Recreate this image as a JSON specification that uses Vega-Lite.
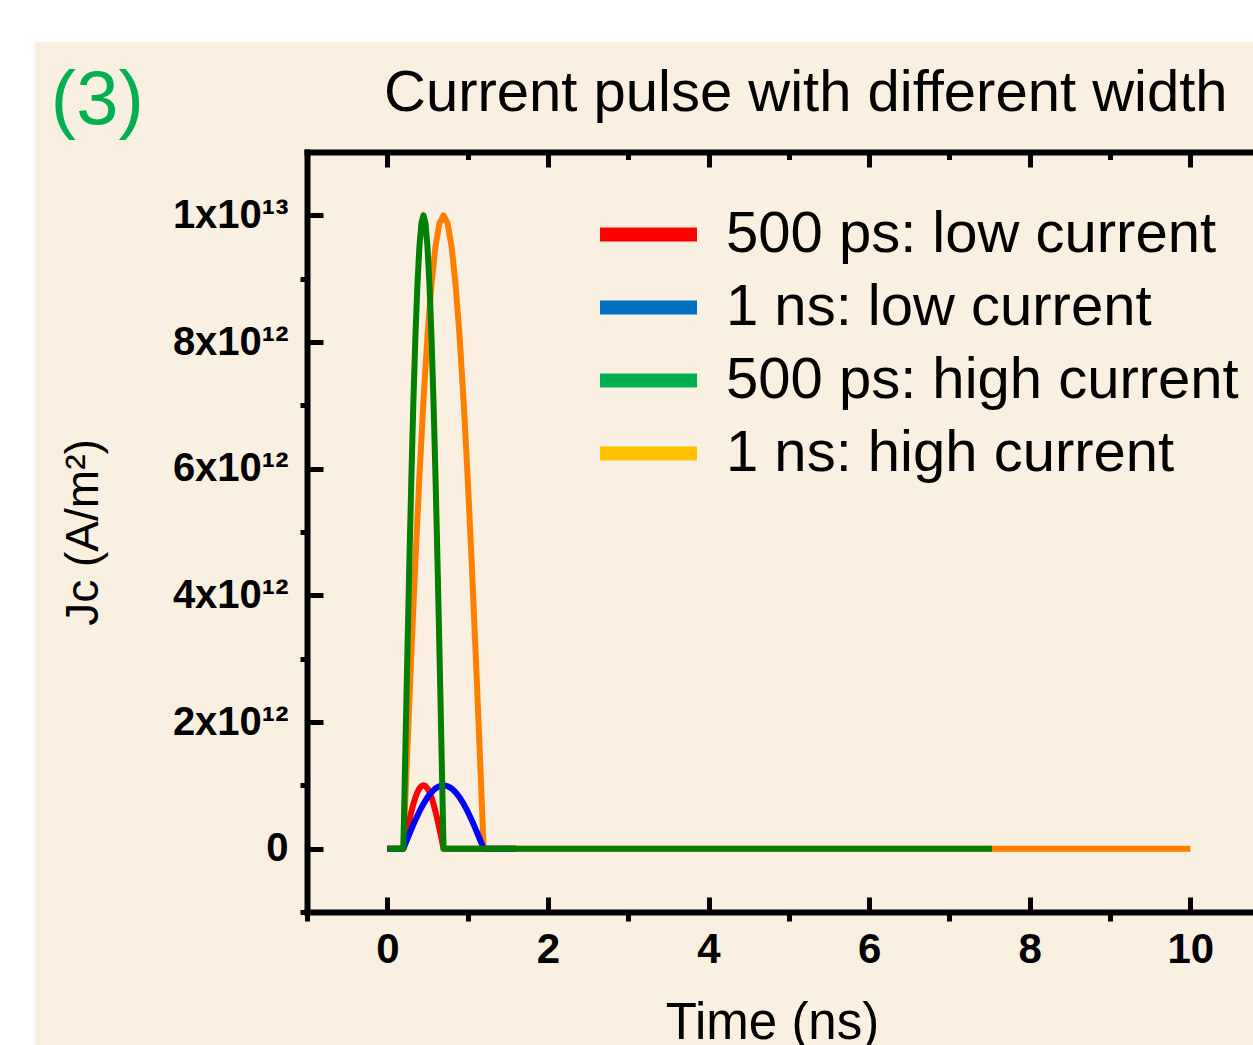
{
  "$schema": "https://vega.github.io/schema/vega-lite/v6.json",
  "width": 1218,
  "height": 1003,
  "autosize": {"type": "none"},
  "padding": {"left": 35, "top": 42, "right": 0, "bottom": 0},
  "background": "white",
  "title": {
    "text": "Current pulse with different width",
    "anchor": "start",
    "frame": "group",
    "orient": "top",
    "offset": 0,
    "baseline": "alphabetic",
    "dx": 349,
    "dy": 127,
    "font": "Liberation Sans",
    "fontSize": 58,
    "fontWeight": "normal",
    "color": "black"
  },
  "config": {
    "view": {"fill": "#f9f0e1", "stroke": null},
    "font": "Liberation Sans"
  },
  "datasets": {
    "pulses": [
      {"series": "1 ns: high current", "t": 0, "j": 0},
      {"series": "1 ns: high current", "t": 0.2, "j": 0},
      {"series": "1 ns: high current", "t": 0.25, "j": 1.564e12},
      {"series": "1 ns: high current", "t": 0.3, "j": 3.090e12},
      {"series": "1 ns: high current", "t": 0.35, "j": 4.540e12},
      {"series": "1 ns: high current", "t": 0.4, "j": 5.878e12},
      {"series": "1 ns: high current", "t": 0.45, "j": 7.071e12},
      {"series": "1 ns: high current", "t": 0.5, "j": 8.090e12},
      {"series": "1 ns: high current", "t": 0.55, "j": 8.910e12},
      {"series": "1 ns: high current", "t": 0.6, "j": 9.511e12},
      {"series": "1 ns: high current", "t": 0.65, "j": 9.877e12},
      {"series": "1 ns: high current", "t": 0.7, "j": 1.0e13},
      {"series": "1 ns: high current", "t": 0.75, "j": 9.877e12},
      {"series": "1 ns: high current", "t": 0.8, "j": 9.511e12},
      {"series": "1 ns: high current", "t": 0.85, "j": 8.910e12},
      {"series": "1 ns: high current", "t": 0.9, "j": 8.090e12},
      {"series": "1 ns: high current", "t": 0.95, "j": 7.071e12},
      {"series": "1 ns: high current", "t": 1.0, "j": 5.878e12},
      {"series": "1 ns: high current", "t": 1.05, "j": 4.540e12},
      {"series": "1 ns: high current", "t": 1.1, "j": 3.090e12},
      {"series": "1 ns: high current", "t": 1.15, "j": 1.564e12},
      {"series": "1 ns: high current", "t": 1.2, "j": 0},
      {"series": "1 ns: high current", "t": 10, "j": 0},

      {"series": "500 ps: low current", "t": 0, "j": 0},
      {"series": "500 ps: low current", "t": 0.2, "j": 0},
      {"series": "500 ps: low current", "t": 0.225, "j": 1.564e11},
      {"series": "500 ps: low current", "t": 0.25, "j": 3.090e11},
      {"series": "500 ps: low current", "t": 0.275, "j": 4.540e11},
      {"series": "500 ps: low current", "t": 0.3, "j": 5.878e11},
      {"series": "500 ps: low current", "t": 0.325, "j": 7.071e11},
      {"series": "500 ps: low current", "t": 0.35, "j": 8.090e11},
      {"series": "500 ps: low current", "t": 0.375, "j": 8.910e11},
      {"series": "500 ps: low current", "t": 0.4, "j": 9.511e11},
      {"series": "500 ps: low current", "t": 0.425, "j": 9.877e11},
      {"series": "500 ps: low current", "t": 0.45, "j": 1.0e12},
      {"series": "500 ps: low current", "t": 0.475, "j": 9.877e11},
      {"series": "500 ps: low current", "t": 0.5, "j": 9.511e11},
      {"series": "500 ps: low current", "t": 0.525, "j": 8.910e11},
      {"series": "500 ps: low current", "t": 0.55, "j": 8.090e11},
      {"series": "500 ps: low current", "t": 0.575, "j": 7.071e11},
      {"series": "500 ps: low current", "t": 0.6, "j": 5.878e11},
      {"series": "500 ps: low current", "t": 0.625, "j": 4.540e11},
      {"series": "500 ps: low current", "t": 0.65, "j": 3.090e11},
      {"series": "500 ps: low current", "t": 0.675, "j": 1.564e11},
      {"series": "500 ps: low current", "t": 0.7, "j": 0},
      {"series": "500 ps: low current", "t": 1.6, "j": 0},

      {"series": "1 ns: low current", "t": 0, "j": 0},
      {"series": "1 ns: low current", "t": 0.2, "j": 0},
      {"series": "1 ns: low current", "t": 0.25, "j": 1.564e11},
      {"series": "1 ns: low current", "t": 0.3, "j": 3.090e11},
      {"series": "1 ns: low current", "t": 0.35, "j": 4.540e11},
      {"series": "1 ns: low current", "t": 0.4, "j": 5.878e11},
      {"series": "1 ns: low current", "t": 0.45, "j": 7.071e11},
      {"series": "1 ns: low current", "t": 0.5, "j": 8.090e11},
      {"series": "1 ns: low current", "t": 0.55, "j": 8.910e11},
      {"series": "1 ns: low current", "t": 0.6, "j": 9.511e11},
      {"series": "1 ns: low current", "t": 0.65, "j": 9.877e11},
      {"series": "1 ns: low current", "t": 0.7, "j": 1.0e12},
      {"series": "1 ns: low current", "t": 0.75, "j": 9.877e11},
      {"series": "1 ns: low current", "t": 0.8, "j": 9.511e11},
      {"series": "1 ns: low current", "t": 0.85, "j": 8.910e11},
      {"series": "1 ns: low current", "t": 0.9, "j": 8.090e11},
      {"series": "1 ns: low current", "t": 0.95, "j": 7.071e11},
      {"series": "1 ns: low current", "t": 1.0, "j": 5.878e11},
      {"series": "1 ns: low current", "t": 1.05, "j": 4.540e11},
      {"series": "1 ns: low current", "t": 1.1, "j": 3.090e11},
      {"series": "1 ns: low current", "t": 1.15, "j": 1.564e11},
      {"series": "1 ns: low current", "t": 1.2, "j": 0},
      {"series": "1 ns: low current", "t": 1.6, "j": 0},

      {"series": "500 ps: high current", "t": 0, "j": 0},
      {"series": "500 ps: high current", "t": 0.2, "j": 0},
      {"series": "500 ps: high current", "t": 0.225, "j": 1.564e12},
      {"series": "500 ps: high current", "t": 0.25, "j": 3.090e12},
      {"series": "500 ps: high current", "t": 0.275, "j": 4.540e12},
      {"series": "500 ps: high current", "t": 0.3, "j": 5.878e12},
      {"series": "500 ps: high current", "t": 0.325, "j": 7.071e12},
      {"series": "500 ps: high current", "t": 0.35, "j": 8.090e12},
      {"series": "500 ps: high current", "t": 0.375, "j": 8.910e12},
      {"series": "500 ps: high current", "t": 0.4, "j": 9.511e12},
      {"series": "500 ps: high current", "t": 0.425, "j": 9.877e12},
      {"series": "500 ps: high current", "t": 0.45, "j": 1.0e13},
      {"series": "500 ps: high current", "t": 0.475, "j": 9.877e12},
      {"series": "500 ps: high current", "t": 0.5, "j": 9.511e12},
      {"series": "500 ps: high current", "t": 0.525, "j": 8.910e12},
      {"series": "500 ps: high current", "t": 0.55, "j": 8.090e12},
      {"series": "500 ps: high current", "t": 0.575, "j": 7.071e12},
      {"series": "500 ps: high current", "t": 0.6, "j": 5.878e12},
      {"series": "500 ps: high current", "t": 0.625, "j": 4.540e12},
      {"series": "500 ps: high current", "t": 0.65, "j": 3.090e12},
      {"series": "500 ps: high current", "t": 0.675, "j": 1.564e12},
      {"series": "500 ps: high current", "t": 0.7, "j": 0},
      {"series": "500 ps: high current", "t": 7.53, "j": 0}
    ],
    "panel": [{"label": "(3)"}]
  },
  "resolve": {
    "scale": {"color": "independent"},
    "axis": {"x": "independent", "y": "independent"}
  },
  "layer": [
    {
      "data": {"name": "pulses"},
      "mark": {"type": "line", "strokeWidth": 6, "strokeJoin": "round", "strokeCap": "butt", "clip": false},
      "encoding": {
        "x": {
          "field": "t", "type": "quantitative",
          "scale": {"domain": [-1, 10.78], "range": [272, 1218], "nice": false, "zero": false},
          "axis": {
            "orient": "bottom", "offset": -133, "values": [0, 2, 4, 6, 8, 10],
            "grid": false, "domain": true, "domainColor": "black", "domainWidth": 6, "domainCap": "square",
            "ticks": true, "tickColor": "black", "tickWidth": 5, "tickSize": -15,
            "labels": true, "labelFont": "Liberation Sans", "labelFontSize": 42, "labelFontWeight": "bold",
            "labelColor": "black", "labelPadding": 32, "labelFlush": false,
            "title": "Time (ns)", "titleFont": "Liberation Sans", "titleFontSize": 51,
            "titleFontWeight": "normal", "titleColor": "black", "titlePadding": 28, "titleX": 737
          }
        },
        "y": {
          "field": "j", "type": "quantitative",
          "scale": {"domain": [-1e12, 1.1e13], "range": [870, 110], "nice": false, "zero": false},
          "axis": {
            "orient": "left", "offset": -272, "values": [0, 2e12, 4e12, 6e12, 8e12, 1e13],
            "grid": false, "domain": true, "domainColor": "black", "domainWidth": 6, "domainCap": "square",
            "ticks": true, "tickColor": "black", "tickWidth": 5, "tickSize": -16,
            "labels": true, "labelFont": "Liberation Sans", "labelFontSize": 40, "labelFontWeight": "bold",
            "labelColor": "black", "labelPadding": 35, "labelFlush": false,
            "labelExpr": "datum.value == 0 ? '0' : (datum.value == 1e13 ? '1x10¹³' : (datum.value / 1e12) + 'x10¹²')",
            "title": "Jc (A/m²)", "titleFont": "Liberation Sans", "titleFontSize": 46,
            "titleFontWeight": "normal", "titleColor": "black", "titlePadding": 65
          }
        },
        "color": {
          "field": "series", "type": "nominal",
          "scale": {
            "domain": ["500 ps: low current", "1 ns: low current", "500 ps: high current", "1 ns: high current"],
            "range": ["#ff0000", "#0000ff", "#008000", "#ff8000"]
          },
          "legend": null
        }
      }
    },
    {
      "data": {"name": "pulses"},
      "transform": [{"filter": "false"}],
      "mark": {"type": "line", "strokeWidth": 14},
      "encoding": {
        "x": {
          "field": "t", "type": "quantitative",
          "axis": {
            "orient": "bottom", "offset": -133, "values": [-1, 1, 3, 5, 7, 9],
            "grid": false, "domain": false, "labels": false, "title": null,
            "ticks": true, "tickColor": "black", "tickWidth": 5, "tickSize": 9
          }
        },
        "y": {
          "field": "j", "type": "quantitative",
          "axis": {
            "orient": "left", "offset": -272, "values": [-1e12, 1e12, 3e12, 5e12, 7e12, 9e12],
            "grid": false, "domain": false, "labels": false, "title": null,
            "ticks": true, "tickColor": "black", "tickWidth": 5, "tickSize": 7
          }
        },
        "color": {
          "field": "series", "type": "nominal",
          "scale": {
            "domain": ["500 ps: low current", "1 ns: low current", "500 ps: high current", "1 ns: high current"],
            "range": ["#ff0000", "#0070c0", "#00b050", "#ffc000"]
          },
          "legend": {
            "orient": "none", "legendX": 558, "legendY": 156,
            "title": null, "padding": 0,
            "symbolType": "stroke", "symbolSize": 9409, "symbolStrokeWidth": 14, "symbolOpacity": 1,
            "labelFont": "Liberation Sans", "labelFontSize": 58, "labelColor": "black",
            "labelOffset": 22, "rowPadding": 0, "clipHeight": 73, "labelLimit": 0
          }
        }
      }
    },
    {
      "data": {"name": "pulses"},
      "transform": [{"filter": "false"}],
      "mark": {"type": "point"},
      "encoding": {
        "x": {
          "field": "t", "type": "quantitative",
          "axis": {
            "orient": "top", "offset": -110, "values": [0, 2, 4, 6, 8, 10],
            "grid": false, "domain": true, "domainColor": "black", "domainWidth": 6, "domainCap": "square",
            "labels": false, "title": null,
            "ticks": true, "tickColor": "black", "tickWidth": 5, "tickSize": -15
          }
        },
        "y": {"field": "j", "type": "quantitative", "axis": null}
      }
    },
    {
      "data": {"name": "pulses"},
      "transform": [{"filter": "false"}],
      "mark": {"type": "point"},
      "encoding": {
        "x": {
          "field": "t", "type": "quantitative",
          "axis": {
            "orient": "top", "offset": -110, "values": [-1, 1, 3, 5, 7, 9],
            "grid": false, "domain": false, "labels": false, "title": null,
            "ticks": true, "tickColor": "black", "tickWidth": 5, "tickSize": -7.5
          }
        },
        "y": {"field": "j", "type": "quantitative", "axis": null}
      }
    },
    {
      "data": {"name": "panel"},
      "mark": {"type": "text", "align": "left", "baseline": "middle", "font": "Liberation Sans", "fontSize": 76, "color": "#00b050", "clip": false},
      "encoding": {
        "x": {"datum": -4.19, "type": "quantitative", "axis": null},
        "y": {"datum": 1.181e13, "type": "quantitative", "axis": null},
        "text": {"field": "label"}
      }
    }
  ]
}
